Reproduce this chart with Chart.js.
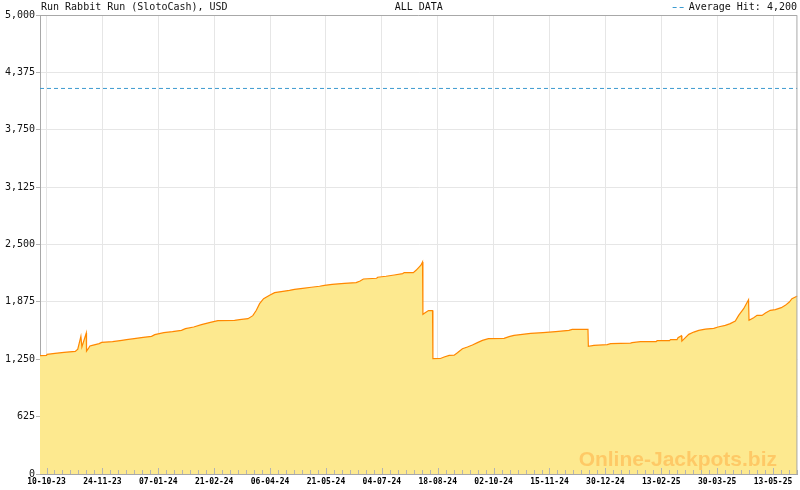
<!DOCTYPE html>
<html>
<head>
<meta charset="utf-8">
<script src="https://cdn.jsdelivr.net/npm/chart.js@4/dist/chart.umd.min.js"></script>
<style>
html,body{margin:0;padding:0;background:#fff;}
#wrap{width:800px;height:490px;position:relative;}
</style>
</head>
<body>
<div id="wrap"><canvas id="c" width="800" height="490"></canvas></div>
<script>
// ---- data (x = days since 10-10-23) ----
const days = [-5.2,0,0.5,6.8,14,23,25,27.5,28.3,31.8,32.0,33.4,34.7,36.6,42.1,44.1,52.8,60.3,64,70.1,77.3,84,86.6,93.8,100.7,107.9,111.1,117.7,123.9,131,137.1,150.4,154.4,161.1,165,167.8,170.4,173.6,178.4,182.4,187.7,194.3,198.3,204.9,211.7,218.3,222.3,228.4,238.2,247.6,250.8,253.4,264,264.8,271.5,278.1,284.8,286.1,293.3,295.5,299.4,300.7,301.0,303.4,305.5,308.7,309.0,315,318,322,326,328.6,332.6,336.6,340.6,344.6,348.6,353.4,365.9,369.9,373.9,380.5,387.2,397,407.2,417.8,420.4,433,433.3,437.7,448.4,451.1,467,468.3,475,487.5,488.3,498.2,499,504.2,505,507.7,508.1,510.9,513.6,517.6,521.6,526.9,533.6,537,542.8,546.8,550.8,553.5,557.5,561.4,561.8,565.5,568.2,572.2,574.9,578.8,582.8,587.6,590.8,594,596.1,600.1,600.5];
const jackpotUSD = [1290,1292,1303,1314,1325,1336,1360,1500,1383,1535,1339,1365,1394,1401,1420,1434,1441,1456,1463,1474,1489,1499,1518,1540,1551,1565,1583,1601,1627,1652,1671,1674,1681,1692,1725,1783,1856,1910,1947,1976,1987,2001,2012,2023,2034,2045,2055,2066,2077,2085,2103,2124,2132,2143,2154,2168,2183,2194,2194,2219,2274,2310,1739,1761,1780,1780,1256,1258,1274,1292,1294,1321,1365,1383,1405,1431,1456,1474,1478,1496,1510,1521,1532,1540,1551,1565,1576,1576,1390,1401,1409,1420,1426,1431,1441,1441,1452,1452,1463,1463,1485,1507,1448,1485,1521,1546,1565,1579,1587,1601,1619,1638,1666,1728,1801,1899,1674,1703,1728,1728,1754,1783,1790,1812,1837,1873,1910,1935,1940];
const averageHit = 4200;
const tickLabels = ['10-10-23','24-11-23','07-01-24','21-02-24','06-04-24','21-05-24','04-07-24','18-08-24','02-10-24','15-11-24','30-12-24','13-02-25','30-03-25','13-05-25'];
const titleText = 'Run Rabbit Run (SlotoCash), USD';
const centerText = 'ALL DATA';
const legendText = 'Average Hit: 4,200';
const watermark = 'Online-Jackpots.biz';

const xMin = -5.2, xMax = 600.5;
const spanDays = 581;                       // 10-10-23 .. 13-05-25
const majorStep = spanDays / (tickLabels.length - 1);
const minorStep = majorStep / 7;

function majorIndex(v){
  const r = v / majorStep;
  const i = Math.round(r);
  return Math.abs(r - i) < 1e-6 ? i : -1;
}

const mainData = days.map((d,i)=>({x:d, y:jackpotUSD[i]}));
const avgData = [{x:xMin,y:averageHit},{x:xMax,y:averageHit}];

const decor = {
  id:'decor',
  afterDatasetsDraw(chart){
    const ctx = chart.ctx, a = chart.chartArea, xs = chart.scales.x;
    ctx.save();
    // inward x ticks
    ctx.strokeStyle = '#b4b4b4';
    ctx.lineWidth = 1;
    xs.ticks.forEach(t=>{
      const px = Math.round(xs.getPixelForValue(t.value)) + 0.5;
      const len = majorIndex(t.value) >= 0 ? 6 : 4;
      ctx.beginPath(); ctx.moveTo(px, a.bottom); ctx.lineTo(px, a.bottom - len); ctx.stroke();
    });
    // top & right border
    ctx.strokeStyle = '#a8a8a8';
    ctx.beginPath();
    ctx.moveTo(a.left, a.top + 0.5); ctx.lineTo(a.right - 0.5, a.top + 0.5); ctx.lineTo(a.right - 0.5, a.bottom);
    ctx.stroke();
    // watermark
    ctx.font = 'bold 21px "Liberation Sans", Arial, sans-serif';
    ctx.fillStyle = 'rgba(255,180,75,0.6)';
    ctx.textAlign = 'right'; ctx.textBaseline = 'alphabetic';
    ctx.fillText(watermark, 777, 466);
    // title texts
    ctx.font = '10px "DejaVu Sans Mono", monospace';
    ctx.fillStyle = '#111';
    ctx.textBaseline = 'middle';
    ctx.textAlign = 'left';
    ctx.fillText(titleText, 41, 7);
    ctx.textAlign = 'center';
    ctx.fillText(centerText, (a.left + a.right) / 2, 7);
    ctx.textAlign = 'right';
    ctx.fillText(legendText, 797, 7);
    const tw = ctx.measureText(legendText).width;
    ctx.strokeStyle = '#3d9bd0';
    ctx.setLineDash([4,3]);
    ctx.beginPath(); ctx.moveTo(797 - tw - 16, 7.5); ctx.lineTo(797 - tw - 2, 7.5); ctx.stroke();
    ctx.restore();
  }
};

new Chart(document.getElementById('c'), {
  type:'line',
  data:{
    datasets:[
      {label:'Jackpot', data:mainData, borderColor:'rgb(255,136,0)', backgroundColor:'rgb(253,233,143)', borderWidth:1.2, pointRadius:0, fill:'origin', tension:0, order:2},
      {label:'Average Hit', data:avgData, borderColor:'#3d9bd0', borderWidth:1, borderDash:[4,3], pointRadius:0, fill:false, order:1}
    ]
  },
  options:{
    responsive:false,
    animation:false,
    layout:{padding:{top:15,right:0,left:0,bottom:0}},
    plugins:{legend:{display:false}, title:{display:false}, tooltip:{enabled:false}},
    scales:{
      x:{
        type:'linear', min:xMin, max:xMax,
        afterBuildTicks(scale){
          const t = [];
          for (let i = 0; i * minorStep <= xMax + 1e-9; i++) t.push({value: i * minorStep});
          scale.ticks = t;
        },
        afterFit(scale){ scale.height = 16; },
        grid:{ color:(c)=> (c.tick && majorIndex(c.tick.value) >= 0) ? '#e6e6e6' : 'rgba(0,0,0,0)', drawTicks:false },
        border:{ color:'#a8a8a8', width:1 },
        ticks:{
          autoSkip:false, maxRotation:0, padding:3, color:'#000',
          font:{family:'"DejaVu Sans Mono", monospace', size:8, weight:'bold'},
          callback:(v)=>{ const i = majorIndex(v); return i >= 0 ? tickLabels[i] : ''; }
        }
      },
      y:{
        min:0, max:5000,
        afterFit(scale){ scale.width = 40; },
        grid:{ color:'#e6e6e6', tickLength:4, tickColor:'#b4b4b4' },
        border:{ color:'#a8a8a8', width:1 },
        ticks:{
          stepSize:625, padding:1, color:'#111',
          font:{family:'"DejaVu Sans Mono", monospace', size:10},
          callback:(v)=> v.toLocaleString('en-US')
        }
      }
    }
  },
  plugins:[decor]
});
</script>
</body>
</html>
